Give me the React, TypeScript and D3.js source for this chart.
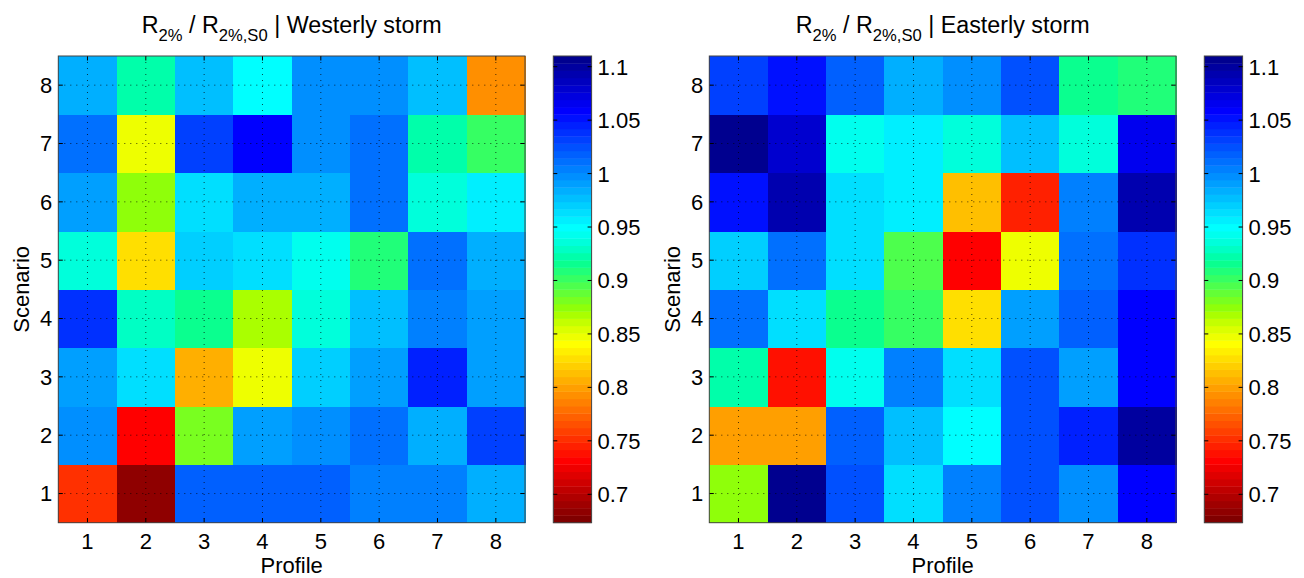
import React from "react";
import * as d3 from "d3";

// ---------- data ----------
const PROFILES = [1, 2, 3, 4, 5, 6, 7, 8];
const SCENARIOS = [1, 2, 3, 4, 5, 6, 7, 8];

// rows = scenario 1..8, columns = profile 1..8
const WESTERLY = [
  [0.752, 0.684, 1.018, 1.018, 1.018, 1.004, 1.004, 0.984],
  [0.997, 0.731, 0.882, 0.991, 0.997, 1.011, 0.984, 1.032],
  [0.991, 0.963, 0.806, 0.847, 0.970, 0.991, 1.045, 0.991],
  [1.038, 0.929, 0.916, 0.868, 0.936, 0.977, 1.004, 0.991],
  [0.936, 0.827, 0.970, 0.963, 0.943, 0.909, 1.011, 0.984],
  [0.991, 0.875, 0.963, 0.984, 0.984, 1.011, 0.936, 0.957],
  [1.011, 0.847, 1.032, 1.059, 0.997, 1.011, 0.922, 0.902],
  [0.984, 0.922, 0.977, 0.950, 0.997, 0.997, 0.977, 0.793],
];

const EASTERLY = [
  [0.875, 1.107, 1.025, 0.963, 1.004, 1.025, 0.997, 1.059],
  [0.800, 0.800, 1.018, 0.977, 0.950, 1.025, 1.045, 1.100],
  [0.922, 0.738, 0.943, 1.004, 0.963, 1.025, 0.991, 1.059],
  [1.011, 0.963, 0.916, 0.902, 0.827, 0.991, 1.018, 1.059],
  [0.970, 1.011, 0.963, 0.895, 0.731, 0.847, 1.011, 1.038],
  [1.052, 1.093, 0.963, 0.957, 0.813, 0.745, 1.004, 1.093],
  [1.107, 1.079, 0.943, 0.957, 0.936, 0.977, 0.936, 1.066],
  [1.032, 1.052, 1.018, 0.984, 0.997, 1.025, 0.916, 0.909],
];

const CBAR_TICKS = [0.7, 0.75, 0.8, 0.85, 0.9, 0.95, 1, 1.05, 1.1];
const CLIM = [0.6734, 1.11];
const STORMS = ["Westerly storm", "Easterly storm"];

// ---------- colormap (MATLAB jet(64), flipped, as saturated in the picture) ----------
function boostSat(rgb: number[], k: number): number[] {
  const mx = Math.max(...rgb);
  const mn = Math.min(...rgb);
  if (mx <= 0 || mx === mn) return rgb;
  const s = (mx - mn) / mx;
  const s2 = Math.min(1, s * k);
  const mn2 = mx * (1 - s2);
  return rgb.map((c) => mn2 + ((c - mn) / (mx - mn)) * (mx - mn2));
}

function jet64(): string[] {
  const m = 64;
  const n = Math.ceil(m / 4);
  const u: number[] = [];
  for (let i = 1; i <= n; i++) u.push(i / n);
  for (let i = 0; i < n - 1; i++) u.push(1);
  for (let i = n; i >= 1; i--) u.push(i / n);
  const g0 = Math.ceil(n / 2) - (m % 4 === 1 ? 1 : 0);
  const J = Array.from({ length: m }, () => [0, 0, 0]);
  const bList: number[] = [];
  for (let i = 0; i < u.length; i++) {
    const g = g0 + i + 1;
    const r = g + n;
    const b = g - n;
    if (g <= m) J[g - 1][1] = u[i];
    if (r <= m) J[r - 1][0] = u[i];
    if (b >= 1) bList.push(b);
  }
  const L = bList.length;
  bList.forEach((b, j) => {
    J[b - 1][2] = u[u.length - L + j];
  });
  return J.map((c) => {
    const [r, g, b] = boostSat(c, 1.4);
    return `rgb(${Math.round(r * 255)},${Math.round(g * 255)},${Math.round(b * 255)})`;
  });
}

const JET = jet64();
const COLORS_LOW_TO_HIGH = JET.slice().reverse();

const W = 1304;
const H = 578;
const FONT = "'Liberation Sans', Arial, Helvetica, sans-serif";

const AX_X = 58.3;
const AX_Y = 56;
const AX_SIZE = 466.7;
const CB_X = 553.3;
const CB_W = 38.3;
const PANEL_DX = 651;

function Panel({ data, title, dx }: { data: number[][]; title: string; dx: number }) {
  const x = d3.scaleBand<number>().domain(PROFILES).range([AX_X, AX_X + AX_SIZE]).padding(0);
  const y = d3.scaleBand<number>().domain(SCENARIOS).range([AX_Y + AX_SIZE, AX_Y]).padding(0);
  const color = d3.scaleQuantize<string>().domain(CLIM).range(COLORS_LOW_TO_HIGH);
  const cy = d3.scaleLinear().domain(CLIM).range([AX_Y + AX_SIZE, AX_Y]);
  const bw = x.bandwidth();
  const bh = y.bandwidth();
  const x0 = AX_X, x1 = AX_X + AX_SIZE, y0 = AX_Y, y1 = AX_Y + AX_SIZE;
  const tickLen = 4.5;
  const nBands = COLORS_LOW_TO_HIGH.length;
  const bandVals = d3.range(nBands).map((i) => CLIM[0] + ((i + 0.5) * (CLIM[1] - CLIM[0])) / nBands);
  const bandH = AX_SIZE / nBands;
  const cx = (x0 + x1) / 2;

  return (
    <g transform={`translate(${dx},0)`}>
      {/* cells */}
      {data.map((row, si) =>
        row.map((v, pi) => (
          <rect
            key={`${si}-${pi}`}
            x={x(PROFILES[pi])!}
            y={y(SCENARIOS[si])!}
            width={bw + 0.5}
            height={bh + 0.5}
            fill={color(v)}
            shapeRendering="crispEdges"
          />
        ))
      )}
      {/* dotted grid */}
      {PROFILES.map((p) => (
        <line
          key={`gx${p}`}
          x1={x(p)! + bw / 2}
          x2={x(p)! + bw / 2}
          y1={y0}
          y2={y1}
          stroke="#000"
          strokeWidth={1}
          strokeDasharray="1,5"
          opacity={0.7}
        />
      ))}
      {SCENARIOS.map((s) => (
        <line
          key={`gy${s}`}
          x1={x0}
          x2={x1}
          y1={y(s)! + bh / 2}
          y2={y(s)! + bh / 2}
          stroke="#000"
          strokeWidth={1}
          strokeDasharray="1,5"
          opacity={0.7}
        />
      ))}
      {/* ticks */}
      {PROFILES.map((p) => {
        const xp = x(p)! + bw / 2;
        return (
          <g key={`tx${p}`}>
            <line x1={xp} x2={xp} y1={y1} y2={y1 - tickLen} stroke="#000" />
            <line x1={xp} x2={xp} y1={y0} y2={y0 + tickLen} stroke="#000" />
            <text x={xp} y={y1 + 26.5} textAnchor="middle" fontSize={22} fontFamily={FONT}>
              {p}
            </text>
          </g>
        );
      })}
      {SCENARIOS.map((s) => {
        const yp = y(s)! + bh / 2;
        return (
          <g key={`ty${s}`}>
            <line x1={x0} x2={x0 + tickLen} y1={yp} y2={yp} stroke="#000" />
            <line x1={x1} x2={x1 - tickLen} y1={yp} y2={yp} stroke="#000" />
            <text x={x0 - 6} y={yp} dy="0.36em" textAnchor="end" fontSize={22} fontFamily={FONT}>
              {s}
            </text>
          </g>
        );
      })}
      {/* axes box */}
      <rect x={x0} y={y0} width={AX_SIZE} height={AX_SIZE} fill="none" stroke="#444" strokeWidth={1} />
      {/* labels */}
      <text x={cx} y={573} textAnchor="middle" fontSize={22} fontFamily={FONT}>
        Profile
      </text>
      <text
        transform={`translate(29,${(y0 + y1) / 2}) rotate(-90)`}
        textAnchor="middle"
        fontSize={22}
        fontFamily={FONT}
      >
        Scenario
      </text>
      {/* title */}
      <text x={cx} y={33} textAnchor="middle" fontSize={23.3} fontFamily={FONT}>
        R
        <tspan fontSize={16.6} dy={7.5}>2%</tspan>
        <tspan dy={-7.5}> / R</tspan>
        <tspan fontSize={16.6} dy={7.5}>2%,S0</tspan>
        <tspan dy={-7.5}> | {title}</tspan>
      </text>
      {/* colorbar */}
      {bandVals.map((v, i) => (
        <rect
          key={`cb${i}`}
          x={CB_X}
          y={cy(v) - bandH / 2}
          width={CB_W}
          height={bandH + 0.4}
          fill={color(v)}
        />
      ))}
      <rect x={CB_X} y={y0} width={CB_W} height={AX_SIZE} fill="none" stroke="#444" strokeWidth={1} />
      {CBAR_TICKS.map((t) => (
        <g key={`ct${t}`}>
          <line x1={CB_X} x2={CB_X + 4} y1={cy(t)} y2={cy(t)} stroke="#000" />
          <line x1={CB_X + CB_W} x2={CB_X + CB_W - 4} y1={cy(t)} y2={cy(t)} stroke="#000" />
          <text x={CB_X + CB_W + 6} y={cy(t)} dy="0.36em" fontSize={22} fontFamily={FONT}>
            {String(+t.toFixed(2))}
          </text>
        </g>
      ))}
    </g>
  );
}

export default function App() {
  return (
    <svg
      width={W}
      height={H}
      viewBox={`0 0 ${W} ${H}`}
      style={{ position: "absolute", left: 0, top: 0, background: "#fff" }}
    >
      <rect x={0} y={0} width={W} height={H} fill="#fff" />
      <Panel data={WESTERLY} title={STORMS[0]} dx={0} />
      <Panel data={EASTERLY} title={STORMS[1]} dx={PANEL_DX} />
    </svg>
  );
}
